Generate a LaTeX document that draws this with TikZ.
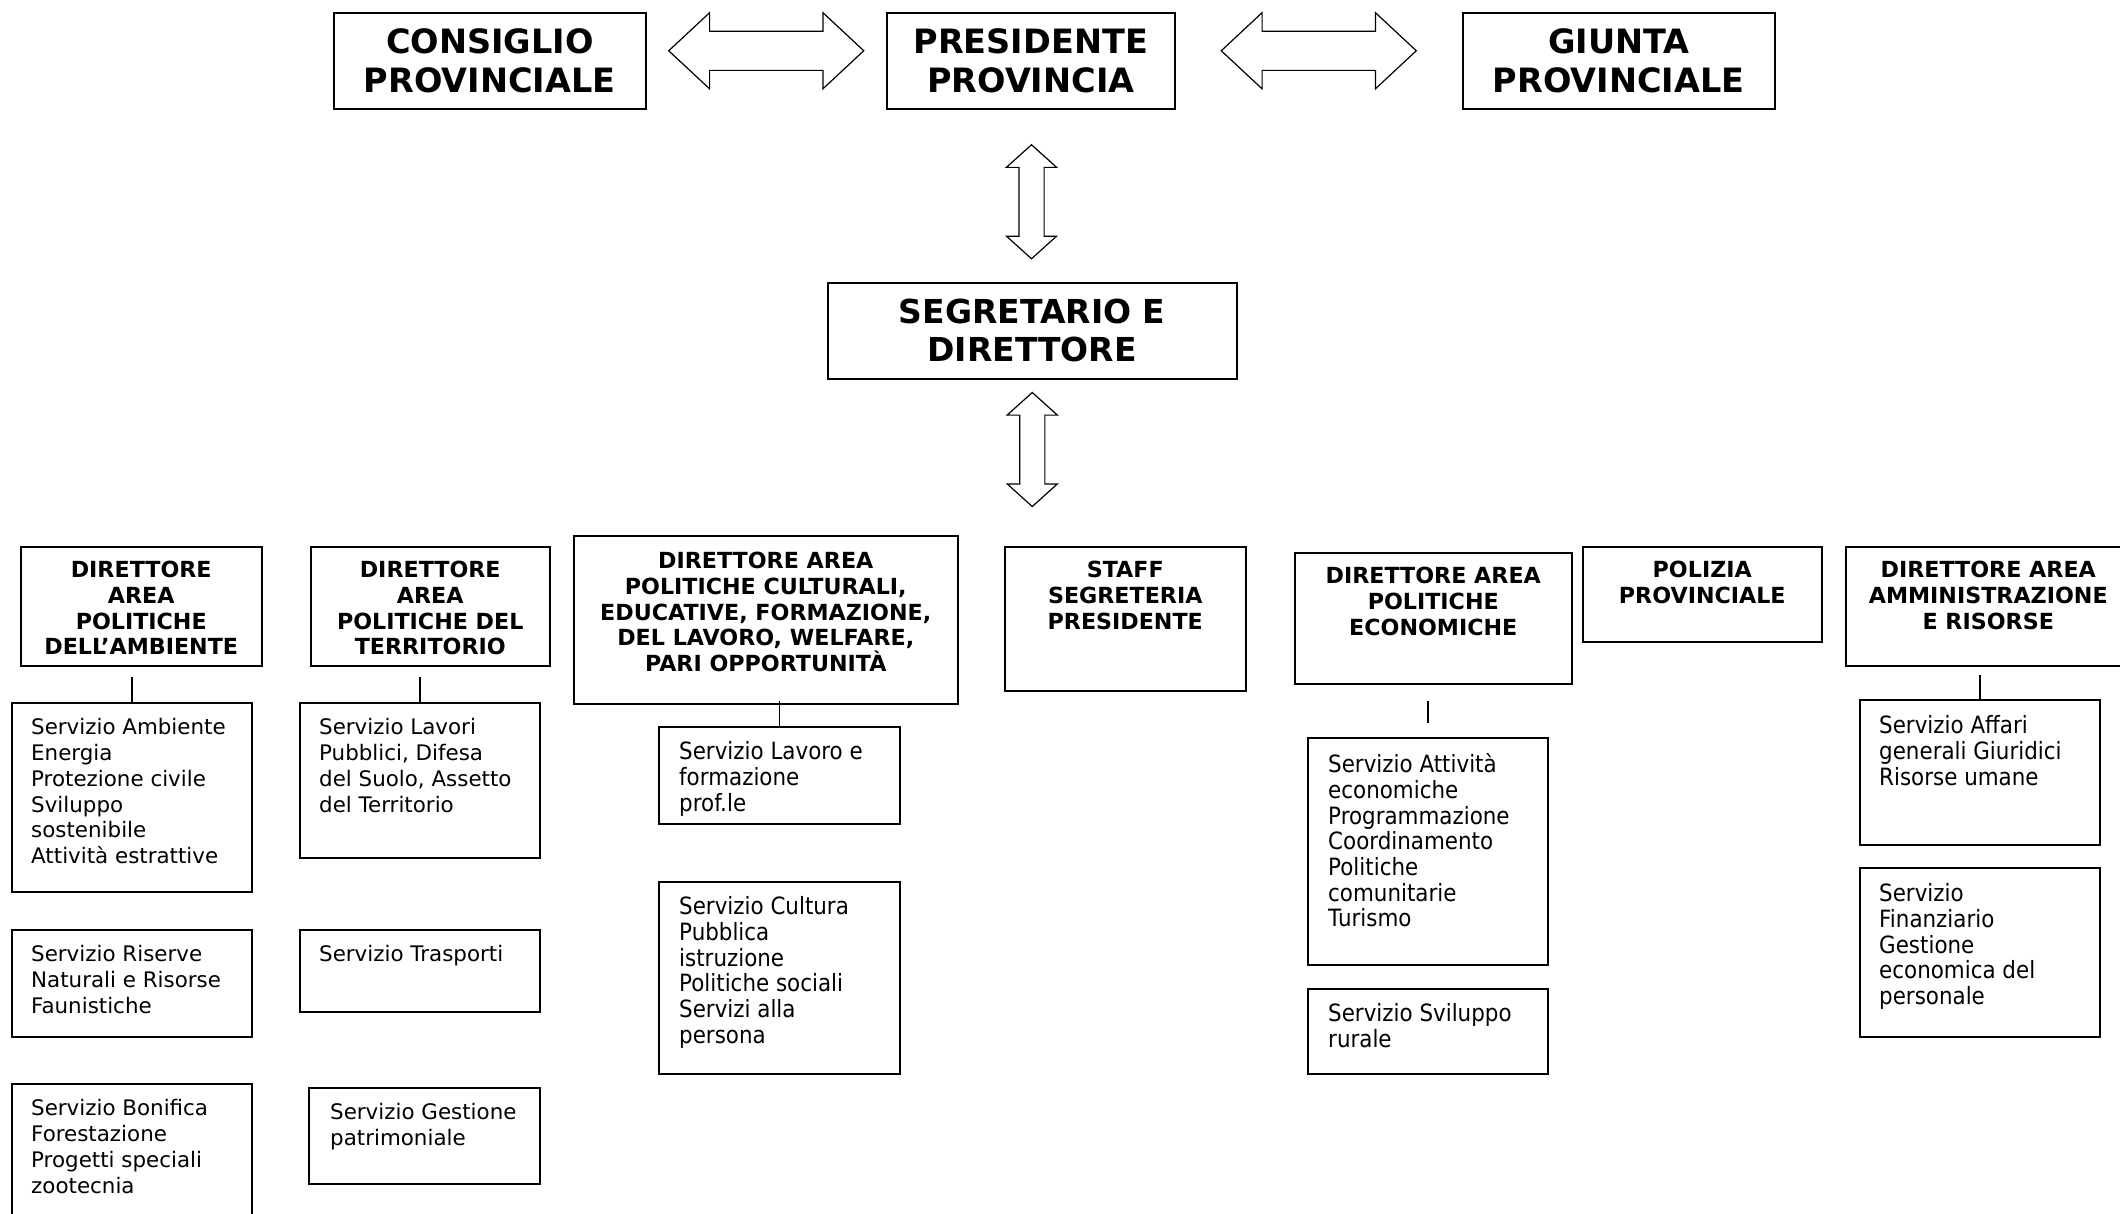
\documentclass[tikz,border=0pt]{standalone}
\usepackage{fontspec}
\setmainfont{DejaVu Sans}
\newfontfamily\narrowfont[FakeStretch=0.9]{DejaVu Sans}
\usetikzlibrary{arrows.meta, positioning, shapes.arrows, calc}

\begin{document}
\begin{tikzpicture}[
    x=1pt, y=-1pt,
    % Box styles
    basebox/.style={draw, line width=1.5pt, inner sep=0pt, anchor=north west},
    topbox/.style={basebox, align=center, font=\bfseries\fontsize{33.5}{39}\selectfont},
    segbox/.style={basebox, align=center, font=\bfseries\fontsize{33}{38}\selectfont},
    % Text styles inside the boxes
    headlabel/.style={anchor=north, align=center, inner sep=0pt, font=\bfseries\fontsize{22.2}{25.7}\selectfont},
    svclabel/.style={anchor=north west, align=left, inner sep=0pt, font=\fontsize{21.4}{25.7}\selectfont},
    svclabelnarrow/.style={svclabel, font=\narrowfont\fontsize{23.8}{25.7}\selectfont},
    % Block arrows
    harrow/.style={double arrow, draw, line width=1.2pt, minimum height=195pt, inner sep=0pt, inner ysep=19pt,
        double arrow head extend=18.5pt, double arrow tip angle=86},
    varrow/.style={double arrow, draw, line width=1.2pt, rotate=90, minimum height=114pt, inner sep=0pt, inner ysep=12pt,
        double arrow head extend=12.5pt, double arrow tip angle=96},
    conn/.style={line width=1.5pt}
]
\useasboundingbox (0,0) rectangle (2120,1213);

% Top level
\node[topbox, minimum width=312pt, minimum height=96pt] (consiglio) at (333,12) {CONSIGLIO\\PROVINCIALE};
\node[topbox, minimum width=288pt, minimum height=96pt] (presidente) at (886,12) {PRESIDENTE\\PROVINCIA};
\node[topbox, minimum width=312pt, minimum height=96pt] (giunta) at (1462,12) {GIUNTA\\PROVINCIALE};
\node[segbox, minimum width=409pt, minimum height=96pt] (segretario) at (827,282) {SEGRETARIO E\\DIRETTORE};

\node[harrow] (arrow_cons_pres) at ([yshift=10pt]$(consiglio.east)!0.5!(presidente.west)$) {};
\node[harrow] (arrow_pres_giunta) at ([yshift=10pt]$(presidente.east)!0.5!(giunta.west)$) {};
\node[varrow] (arrow_pres_seg) at ([yshift=-6pt]$(presidente.south)!0.5!(segretario.north)$) {};
\node[varrow] (arrow_seg_aree) at ([yshift=-70pt]segretario.south) {};

% Area directors
\node[basebox, minimum width=241pt, minimum height=119pt] (amb_head) at (20,546) {};
\node[basebox, minimum width=239pt, minimum height=119pt] (terr_head) at (310,546) {};
\node[basebox, minimum width=384pt, minimum height=168pt] (cult_head) at (573,535) {};
\node[basebox, minimum width=241pt, minimum height=144pt] (staff_head) at (1004,546) {};
\node[basebox, minimum width=277pt, minimum height=131pt] (econ_head) at (1294,552) {};
\node[basebox, minimum width=239pt, minimum height=95pt] (polizia_head) at (1582,546) {};
\node[basebox, minimum width=285pt, minimum height=119pt] (amm_head) at (1845,546) {};

\node[headlabel] (amb_head_txt) at ([yshift=-15pt]amb_head.north) {DIRETTORE\\AREA\\POLITICHE\\DELL’AMBIENTE};
\node[headlabel] (terr_head_txt) at ([yshift=-15pt]terr_head.north) {DIRETTORE\\AREA\\POLITICHE DEL\\TERRITORIO};
\node[headlabel] (cult_head_txt) at ([yshift=-17pt]cult_head.north) {DIRETTORE AREA\\POLITICHE CULTURALI,\\EDUCATIVE, FORMAZIONE,\\DEL LAVORO, WELFARE,\\PARI OPPORTUNITÀ};
\node[headlabel] (staff_head_txt) at ([yshift=-15pt]staff_head.north) {STAFF\\SEGRETERIA\\PRESIDENTE};
\node[headlabel] (econ_head_txt) at ([yshift=-15pt]econ_head.north) {DIRETTORE AREA\\POLITICHE\\ECONOMICHE};
\node[headlabel] (polizia_head_txt) at ([yshift=-15pt]polizia_head.north) {POLIZIA\\PROVINCIALE};
\node[headlabel] (amm_head_txt) at ([yshift=-15pt]amm_head.north) {DIRETTORE AREA\\AMMINISTRAZIONE\\E RISORSE};

% Services
\node[basebox, minimum width=240pt, minimum height=189pt] (amb_svc1) at (11,702) {};
\node[basebox, minimum width=240pt, minimum height=107pt] (amb_svc2) at (11,929) {};
\node[basebox, minimum width=240pt, minimum height=160pt] (amb_svc3) at (11,1083) {};
\node[basebox, minimum width=240pt, minimum height=155pt] (terr_svc1) at (299,702) {};
\node[basebox, minimum width=240pt, minimum height=82pt] (terr_svc2) at (299,929) {};
\node[basebox, minimum width=231pt, minimum height=96pt] (terr_svc3) at (308,1087) {};
\node[basebox, minimum width=241pt, minimum height=97pt] (cult_svc1) at (658,726) {};
\node[basebox, minimum width=241pt, minimum height=192pt] (cult_svc2) at (658,881) {};
\node[basebox, minimum width=240pt, minimum height=227pt] (econ_svc1) at (1307,737) {};
\node[basebox, minimum width=240pt, minimum height=85pt] (econ_svc2) at (1307,988) {};
\node[basebox, minimum width=240pt, minimum height=145pt] (amm_svc1) at (1859,699) {};
\node[basebox, minimum width=240pt, minimum height=169pt] (amm_svc2) at (1859,867) {};

\node[svclabel] (amb_svc1_txt) at ([xshift=20pt,yshift=-16.5pt]amb_svc1.north west) {Servizio Ambiente\\Energia\\Protezione civile\\Sviluppo\\sostenibile\\Attività estrattive};
\node[svclabel] (amb_svc2_txt) at ([xshift=20pt,yshift=-16.5pt]amb_svc2.north west) {Servizio Riserve\\Naturali e Risorse\\Faunistiche};
\node[svclabel] (amb_svc3_txt) at ([xshift=20pt,yshift=-16.5pt]amb_svc3.north west) {Servizio Bonifica\\Forestazione\\Progetti speciali\\zootecnia};
\node[svclabel] (terr_svc1_txt) at ([xshift=20pt,yshift=-16.5pt]terr_svc1.north west) {Servizio Lavori\\Pubblici, Difesa\\del Suolo, Assetto\\del Territorio};
\node[svclabel] (terr_svc2_txt) at ([xshift=20pt,yshift=-16.5pt]terr_svc2.north west) {Servizio Trasporti};
\node[svclabel] (terr_svc3_txt) at ([xshift=22pt,yshift=-16.5pt]terr_svc3.north west) {Servizio Gestione\\patrimoniale};
\node[svclabelnarrow] (cult_svc1_txt) at ([xshift=21pt,yshift=-15.5pt]cult_svc1.north west) {Servizio Lavoro e\\formazione\\prof.le};
\node[svclabelnarrow] (cult_svc2_txt) at ([xshift=21pt,yshift=-15.5pt]cult_svc2.north west) {Servizio Cultura\\Pubblica\\istruzione\\Politiche sociali\\Servizi alla\\persona};
\node[svclabelnarrow] (econ_svc1_txt) at ([xshift=21pt,yshift=-16.5pt]econ_svc1.north west) {Servizio Attività\\economiche\\Programmazione\\Coordinamento\\Politiche\\comunitarie\\Turismo};
\node[svclabelnarrow] (econ_svc2_txt) at ([xshift=21pt,yshift=-15.5pt]econ_svc2.north west) {Servizio Sviluppo\\rurale};
\node[svclabelnarrow] (amm_svc1_txt) at ([xshift=20pt,yshift=-16.5pt]amm_svc1.north west) {Servizio Affari\\generali Giuridici\\Risorse umane};
\node[svclabelnarrow] (amm_svc2_txt) at ([xshift=20pt,yshift=-16.5pt]amm_svc2.north west) {Servizio\\Finanziario\\Gestione\\economica del\\personale};

% Connections
\draw[conn] ([yshift=-10pt]amb_head.south -| amb_svc1.north) -- (amb_svc1.north);
\draw[conn] ([yshift=-10pt]terr_head.south -| terr_svc1.north) -- (terr_svc1.north);
\draw[conn] ([yshift=4pt]cult_head.south -| cult_svc1.north) -- (cult_svc1.north);
\draw[conn] ([yshift=-16pt]econ_head.south -| econ_svc1.north) -- ([yshift=14pt]econ_svc1.north);
\draw[conn] ([yshift=-8pt]amm_head.south -| amm_svc1.north) -- (amm_svc1.north);

\end{tikzpicture}
\end{document}
